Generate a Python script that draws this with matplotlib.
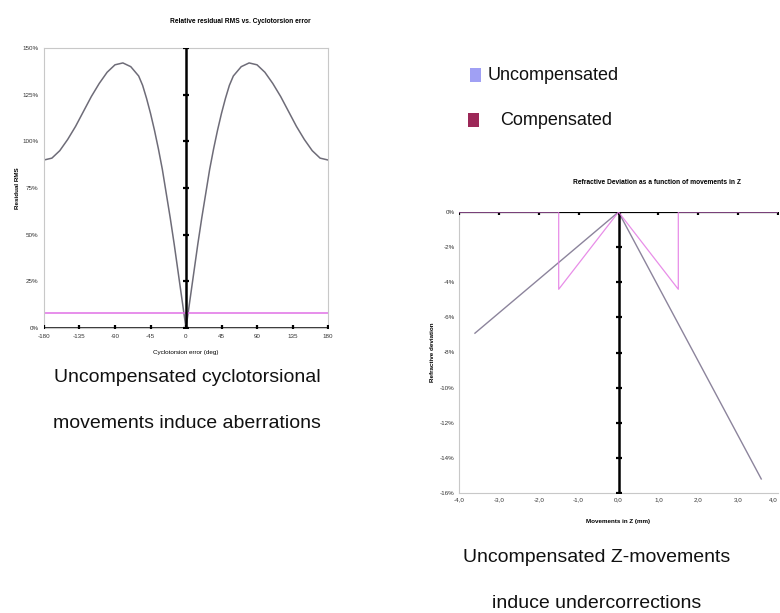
import numpy as np
import matplotlib
matplotlib.use('Agg')
import matplotlib.pyplot as plt
from matplotlib.patches import Rectangle

# Residual RMS vs cyclotorsion error (deg -> %)
torsion_deg = [-180, -170, -160, -150, -140, -130, -120, -110, -100, -90, -80, -70, -60,
               -55, -50, -45, -40, -35, -30, -25, -20, -15, -10, -5, 0,
               5, 10, 15, 20, 25, 30, 35, 40, 45, 50, 55, 60, 70, 80, 90, 100, 110, 120,
               130, 140, 150, 160, 170, 180]
residual_uncomp = [90, 91, 95, 101, 108, 116, 124, 131, 137, 141, 142, 140, 135,
                   130, 123, 115, 106, 96, 85, 72, 59, 45, 30, 15, 0,
                   15, 30, 45, 59, 72, 85, 96, 106, 115, 123, 130, 135, 140, 142, 141, 137,
                   131, 124, 116, 108, 101, 95, 91, 90]
residual_comp = 8.0
torsion_ticks = [-180, -135, -90, -45, 0, 45, 90, 135, 180]
rms_ticks = [0, 25, 50, 75, 100, 125, 150]

# Refractive deviation vs movement in Z (mm -> %)
z_uncomp = [-3.6, 0.0, 3.58]
dev_uncomp = [-6.9, 0.0, -15.2]
z_comp = [-4.0, -1.5, -1.5, 0.0, 1.5, 1.5, 4.0]
dev_comp = [0.0, 0.0, -4.4, 0.0, -4.4, 0.0, 0.0]
z_ticks = [-4, -3, -2, -1, 0, 1, 2, 3, 4]
dev_ticks = [0, -2, -4, -6, -8, -10, -12, -14, -16]

plt.rcParams['font.family'] = ['Liberation Sans', 'DejaVu Sans']

fig = plt.figure(figsize=(7.8, 6.13), dpi=100)
W, H = 780, 613


def px_axes(x0, y0, x1, y1):
    return fig.add_axes([x0 / W, 1 - y1 / H, (x1 - x0) / W, (y1 - y0) / H])


frame_col = '#c8c8c8'
tick_fs = 4.5

# ---- left chart ----
ax1 = px_axes(44, 48, 328, 328)
ax1.plot(torsion_deg, residual_uncomp, color='#6e6c78', lw=1.1)
ax1.axhline(residual_comp, color='#e070e6', lw=1.1)
ax1.axvline(0, color='black', lw=1.8, zorder=3)
ax1.axhline(0, color='black', lw=1.8, zorder=3)
ax1.plot(np.zeros(len(rms_ticks)), rms_ticks, ls='none', marker='_', ms=5, mew=1.6,
         color='black', zorder=4)
ax1.plot(torsion_ticks, np.zeros(len(torsion_ticks)), ls='none', marker='|', ms=5, mew=1.6,
         color='black', zorder=4)
ax1.set_xlim(-180, 180)
ax1.set_ylim(0, 150)
ax1.set_xticks(torsion_ticks)
ax1.set_xticklabels([str(t) for t in torsion_ticks])
ax1.set_yticks(rms_ticks)
ax1.set_yticklabels([f'{t}%' for t in rms_ticks])
ax1.tick_params(length=0, labelsize=tick_fs, pad=4, colors='#333333')
for s in ax1.spines.values():
    s.set_color(frame_col)
    s.set_linewidth(0.8)
ax1.set_title('Relative residual RMS vs. Cyclotorsion error', fontsize=4.8,
              fontweight='bold', x=0.69, pad=18)
ax1.set_xlabel('Cyclotorsion error (deg)', fontsize=4.5, labelpad=8)
ax1.set_ylabel('Residual RMS', fontsize=4.5, fontweight='bold', labelpad=2)

# ---- right chart ----
ax2 = px_axes(459, 212, 778, 493)
ax2.plot(z_uncomp, dev_uncomp, color='#8c849c', lw=1.0)
ax2.axvline(0, color='black', lw=1.8, zorder=3)
ax2.axhline(0, color='black', lw=1.6, zorder=3)
ax2.plot(z_comp, dev_comp, color='#e47ae4', lw=0.9, alpha=0.85, zorder=5)
ax2.plot(np.zeros(len(dev_ticks)), dev_ticks, ls='none', marker='_', ms=5, mew=1.6,
         color='black', zorder=4)
ax2.plot(z_ticks, np.zeros(len(z_ticks)), ls='none', marker='|', ms=5, mew=1.6,
         color='black', zorder=4)
ax2.set_xlim(-4, 4)
ax2.set_ylim(-16, 0)
ax2.set_xticks(z_ticks)
ax2.set_xticklabels([f'{t:.1f}'.replace('.', ',') for t in z_ticks])
ax2.get_xticklabels()[-1].set_ha('right')
ax2.set_yticks(dev_ticks)
ax2.set_yticklabels([f'{t}%' for t in dev_ticks])
ax2.tick_params(length=0, labelsize=tick_fs, pad=3, colors='#333333')
for s in ax2.spines.values():
    s.set_color(frame_col)
    s.set_linewidth(0.8)
ax2.spines['top'].set_visible(False)
ax2.spines['right'].set_visible(False)
ax2.set_title('Refractive Deviation as a function of movements in Z', fontsize=4.8,
              fontweight='bold', x=0.62, pad=20)
ax2.set_xlabel('Movements in Z (mm)', fontsize=4.5, fontweight='bold', labelpad=12)
ax2.set_ylabel('Refractive deviation', fontsize=4.5, fontweight='bold', labelpad=4)

# ---- legend ----
fig.patches.append(Rectangle((470 / W, 1 - 82 / H), 11 / W, 14 / H,
                             transform=fig.transFigure, color='#a0a0f4', lw=0))
fig.text(488 / W, 1 - 75 / H, 'Uncompensated', fontsize=13, va='center', ha='left',
         color='#111111')
fig.patches.append(Rectangle((468 / W, 1 - 127 / H), 11 / W, 14 / H,
                             transform=fig.transFigure, color='#9c2858', lw=0))
fig.text(500 / W, 1 - 120 / H, 'Compensated', fontsize=13, va='center', ha='left',
         color='#111111')

# ---- captions ----
cap_fs = 14
fig.text(187 / W, 1 - 378 / H, 'Uncompensated cyclotorsional', fontsize=cap_fs,
         ha='center', va='center', color='#111111')
fig.text(187 / W, 1 - 423 / H, 'movements induce aberrations', fontsize=cap_fs,
         ha='center', va='center', color='#111111')
fig.text(597 / W, 1 - 558 / H, 'Uncompensated Z-movements', fontsize=cap_fs,
         ha='center', va='center', color='#111111')
fig.text(597 / W, 1 - 603 / H, 'induce undercorrections', fontsize=cap_fs,
         ha='center', va='center', color='#111111')

fig.savefig('out.png', dpi=100)
